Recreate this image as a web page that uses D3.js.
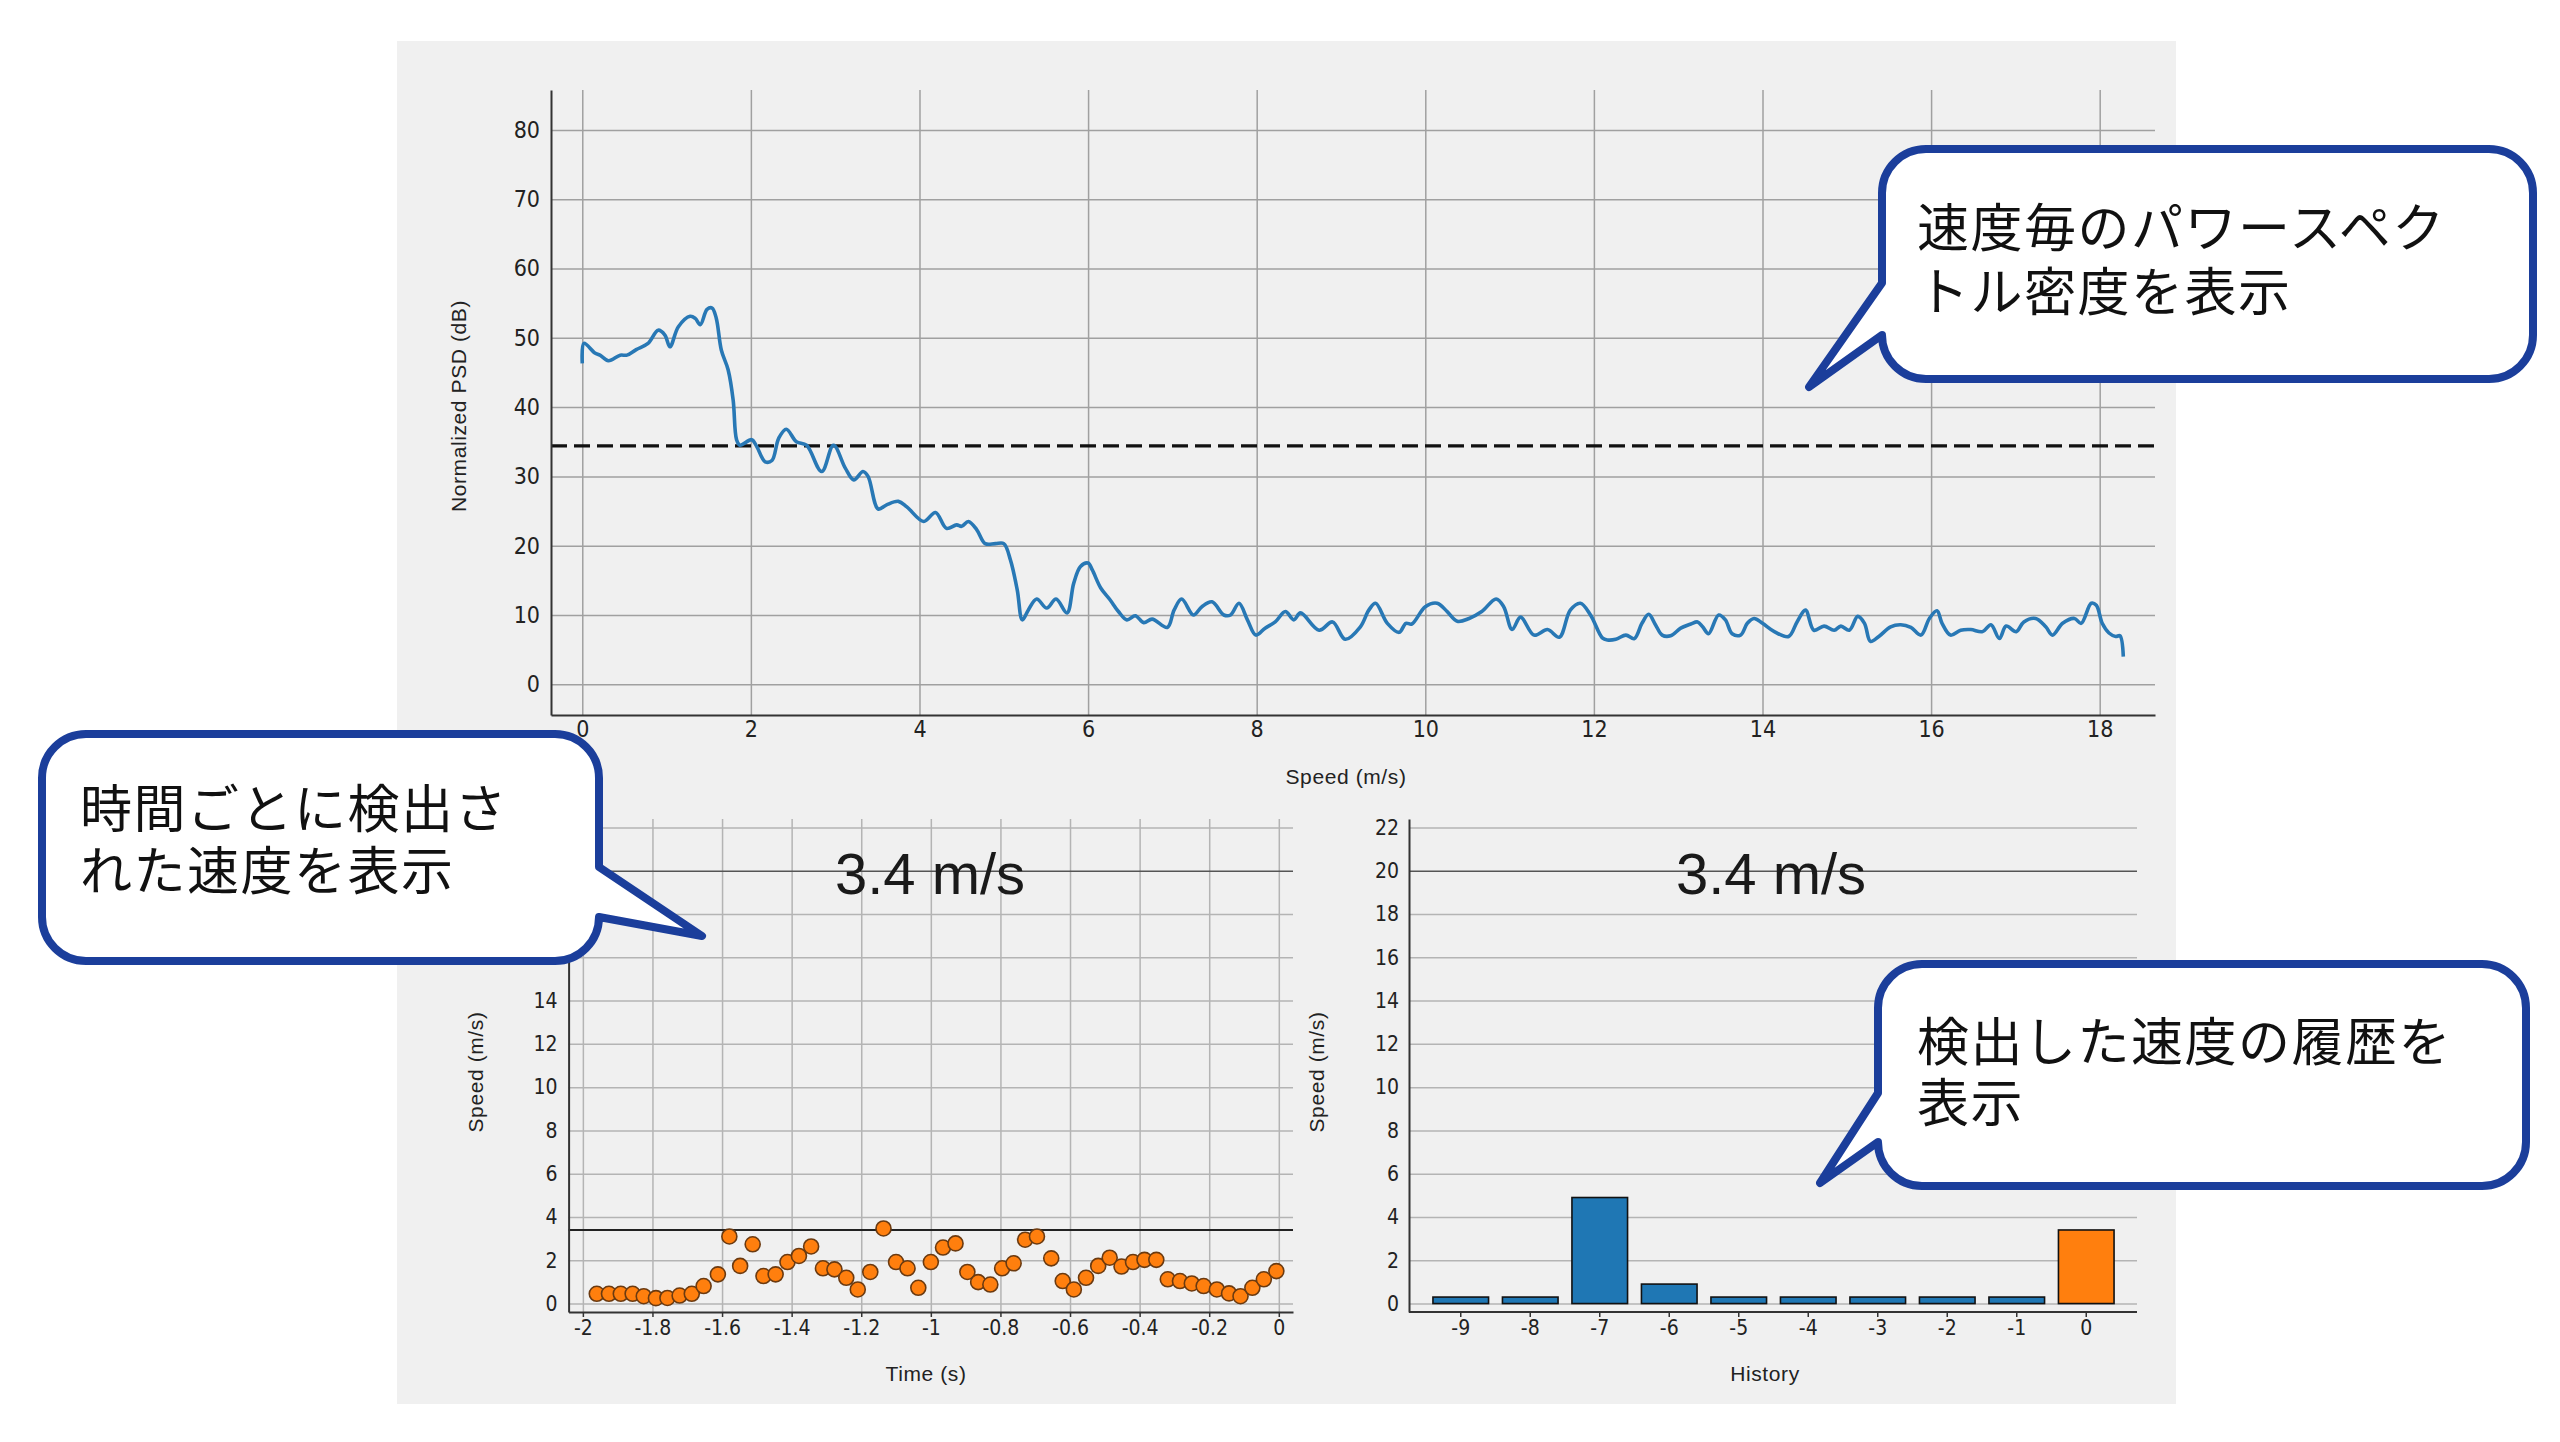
<!DOCTYPE html>
<html><head><meta charset="utf-8">
<script src="https://cdn.jsdelivr.net/npm/d3@7"></script>
<style>
html,body{margin:0;padding:0;background:#fff;}
svg{display:block;}
</style></head><body>
<svg id="c" width="2560" height="1442"></svg>
<script>
// ---------------- DATA ----------------
const psdSpeed = [0.00,0.02,0.15,0.21,0.31,0.45,0.53,0.64,0.78,0.90,0.98,1.04,1.14,1.28,1.34,1.40,1.48,1.54,1.59,1.65,1.73,1.79,1.83,1.87,2.01,2.07,2.17,2.25,2.33,2.42,2.54,2.66,2.84,2.98,3.12,3.22,3.33,3.39,3.51,3.61,3.75,3.85,4.05,4.19,4.32,4.44,4.50,4.58,4.68,4.78,4.90,5.00,5.08,5.16,5.22,5.29,5.39,5.51,5.62,5.75,5.83,5.91,6.00,6.05,6.15,6.26,6.36,6.46,6.56,6.66,6.76,6.94,7.02,7.11,7.25,7.35,7.47,7.61,7.69,7.79,7.89,7.99,8.10,8.22,8.34,8.44,8.52,8.74,8.90,9.05,9.23,9.33,9.41,9.55,9.69,9.77,9.84,10.00,10.14,10.26,10.38,10.52,10.67,10.84,10.93,11.03,11.13,11.29,11.45,11.59,11.72,11.84,11.96,12.10,12.16,12.26,12.38,12.48,12.57,12.65,12.73,12.81,12.91,13.03,13.15,13.23,13.29,13.36,13.48,13.56,13.64,13.74,13.82,13.90,14.00,14.14,14.31,14.41,14.51,14.61,14.73,14.85,14.93,15.03,15.13,15.21,15.28,15.38,15.52,15.64,15.76,15.88,15.98,16.07,16.13,16.23,16.35,16.47,16.61,16.71,16.81,16.89,17.01,17.10,17.24,17.36,17.44,17.56,17.70,17.78,17.90,17.96,18.03,18.11,18.19,18.24,18.28];
const psdDb = [46.3,49.2,47.8,47.5,46.7,47.5,47.5,48.3,49.2,51.1,50.4,48.7,51.6,53.1,52.8,51.9,54.1,54.3,52.8,48.2,45.4,41.0,35.3,34.5,35.3,34.3,32.1,32.3,35.5,36.8,35.0,34.5,30.7,34.5,31.2,29.5,30.7,30.0,25.3,25.9,26.4,25.6,23.5,24.8,22.5,23.0,22.8,23.5,22.3,20.3,20.3,20.3,17.9,13.6,9.3,10.7,12.3,11.0,12.3,10.3,14.6,17.0,17.5,16.5,13.9,12.2,10.5,9.3,9.9,8.9,9.4,8.2,10.7,12.3,10.0,11.2,11.9,10.0,10.0,11.7,9.3,7.1,8.1,9.0,10.5,9.3,10.3,7.8,9.0,6.5,8.3,10.7,11.7,8.8,7.5,8.8,8.7,11.2,11.7,10.5,9.1,9.5,10.5,12.3,11.2,7.9,9.7,7.1,7.9,6.8,10.7,11.7,10.0,6.7,6.4,6.5,7.1,6.6,8.8,10.1,8.6,7.1,7.0,8.1,8.7,9.0,8.3,7.3,10.0,9.3,7.3,7.1,8.8,9.5,8.8,7.6,6.9,9.0,10.7,7.8,8.4,7.8,8.4,7.8,9.8,8.8,6.2,6.9,8.3,8.6,8.2,7.1,9.5,10.6,8.8,7.1,7.8,7.9,7.6,8.6,6.6,8.4,7.6,9.0,9.5,8.3,7.1,8.8,9.5,8.8,11.7,11.4,8.8,7.4,6.9,7.0,4.0];
const psdThreshold = 34.4;
const psdXTicks = [0,2,4,6,8,10,12,14,16,18];
const psdYTicks = [0,10,20,30,40,50,60,70,80];

const detTime = [-1.960,-1.925,-1.891,-1.857,-1.825,-1.790,-1.757,-1.722,-1.687,-1.653,-1.612,-1.579,-1.548,-1.512,-1.481,-1.446,-1.412,-1.379,-1.344,-1.310,-1.277,-1.243,-1.210,-1.174,-1.136,-1.100,-1.067,-1.036,-1.000,-0.965,-0.929,-0.895,-0.864,-0.829,-0.795,-0.762,-0.729,-0.695,-0.654,-0.621,-0.589,-0.554,-0.519,-0.486,-0.452,-0.419,-0.386,-0.352,-0.319,-0.284,-0.250,-0.216,-0.178,-0.143,-0.110,-0.076,-0.043,-0.007];
const detSpeed = [0.45,0.45,0.45,0.45,0.34,0.25,0.26,0.37,0.45,0.81,1.35,3.10,1.74,2.74,1.27,1.35,1.92,2.20,2.64,1.63,1.58,1.19,0.65,1.46,3.47,1.92,1.63,0.73,1.92,2.59,2.78,1.46,0.99,0.88,1.63,1.86,2.95,3.10,2.09,1.04,0.65,1.19,1.74,2.12,1.71,1.92,2.02,2.02,1.12,1.04,0.93,0.81,0.65,0.47,0.34,0.73,1.12,1.50];
const currentSpeed = 3.4;
const timeTicks = [-2,-1.8,-1.6,-1.4,-1.2,-1,-0.8,-0.6,-0.4,-0.2,0];
const speedTicks = [0,2,4,6,8,10,12,14,16,18,20,22];

const histLabels = ["-9","-8","-7","-6","-5","-4","-3","-2","-1","0"];
const histSpeed = [0.3,0.3,4.9,0.9,0.3,0.3,0.3,0.3,0.3,3.4];

const titleText = "3.4 m/s";
const psdXTitle = "Speed (m/s)";
const psdYTitle = "Normalized PSD (dB)";
const speedTitle = "Speed (m/s)";
const timeTitle = "Time (s)";
const histTitle = "History";
const callout1 = ["速度毎のパワースペク","トル密度を表示"];
const callout2 = ["時間ごとに検出さ","れた速度を表示"];
const callout3 = ["検出した速度の履歴を","表示"];

// ---------------- DRAW ----------------
const svg = d3.select("#c");
const FONT = '"Liberation Sans", Arial, sans-serif';
const NFONT = '"Liberation Sans Narrow", "DejaVu Sans Condensed", "Liberation Sans", Arial, sans-serif';
const JFONT = '"Liberation Sans", "Noto Sans CJK JP", "Noto Sans CJK SC", sans-serif';

svg.append("rect").attr("x",397).attr("y",41).attr("width",1779).attr("height",1363).attr("fill","#f0f0f0");

function styleAxis(g, size){
  g.selectAll("text").attr("font-family",NFONT).attr("font-size",size).attr("fill","#222");
  g.select(".domain").attr("stroke","#333").attr("stroke-width",2);
  g.selectAll(".tick line").attr("stroke","#333").attr("stroke-width",1.5);
}
function gridStyle(g, color){
  g.select(".domain").remove();
  g.selectAll(".tick line").attr("stroke",color).attr("stroke-width",1.5);
  g.selectAll("text").remove();
}
function fmt(d){ return String(+(+d).toFixed(1)); }

// ---- Top chart: PSD ----
const xP = d3.scaleLinear().domain([-0.371,18.656]).range([551,2155]);
const yP = d3.scaleLinear().domain([-4.43,85.76]).range([715,90]);
const gTop = svg.append("g");
gTop.append("g").attr("transform","translate(0,715)")
  .call(d3.axisBottom(xP).tickValues(psdXTicks).tickSize(-(715-90)).tickFormat(""))
  .call(g=>gridStyle(g,"#a0a0a0"));
gTop.append("g").attr("transform","translate(551,0)")
  .call(d3.axisLeft(yP).tickValues(psdYTicks).tickSize(-(2155-551)).tickFormat(""))
  .call(g=>gridStyle(g,"#a0a0a0"));
gTop.append("line").attr("x1",xP.range()[0]).attr("x2",xP.range()[1])
  .attr("y1",yP(psdThreshold)).attr("y2",yP(psdThreshold))
  .attr("stroke","#111").attr("stroke-width",3.4).attr("stroke-dasharray","16,7");
const psdPts = psdSpeed.map((s,i)=>[s,psdDb[i]]);
gTop.append("path").datum(psdPts)
  .attr("fill","none").attr("stroke","#2878b5").attr("stroke-width",3.6).attr("stroke-linejoin","round")
  .attr("d", d3.line().x(d=>xP(d[0])).y(d=>yP(d[1])).curve(d3.curveCatmullRom.alpha(0.5)));
gTop.append("g").attr("transform","translate(0,715)")
  .call(d3.axisBottom(xP).tickValues(psdXTicks).tickSize(0).tickSizeOuter(0).tickPadding(6).tickFormat(d=>fmt(d)))
  .call(g=>styleAxis(g,23));
gTop.append("g").attr("transform","translate(551,0)")
  .call(d3.axisLeft(yP).tickValues(psdYTicks).tickSize(0).tickSizeOuter(0).tickPadding(11).tickFormat(d=>fmt(d)))
  .call(g=>styleAxis(g,23));
gTop.append("text").attr("x",1346).attr("y",784).attr("text-anchor","middle")
  .attr("font-family",FONT).attr("font-size",21).attr("letter-spacing",0.6).attr("fill","#222").text(psdXTitle);
gTop.append("text").attr("transform","translate(466,406) rotate(-90)").attr("text-anchor","middle")
  .attr("font-family",FONT).attr("font-size",21).attr("letter-spacing",0.6).attr("fill","#222").text(psdYTitle);

// ---- Bottom-left chart: detected speed over time ----
const xT = d3.scaleLinear().domain([-2.041,0.0408]).range([568.6,1293]);
const yS = d3.scaleLinear().domain([-0.39,22.39]).range([1312,819]);
const gBL = svg.append("g");
gBL.append("g").attr("transform","translate(0,1312)")
  .call(d3.axisBottom(xT).tickValues(timeTicks).tickSize(-(1312-819)).tickFormat(""))
  .call(g=>gridStyle(g,"#b4b4b4"));
gBL.append("g").attr("transform","translate(568.6,0)")
  .call(d3.axisLeft(yS).tickValues(speedTicks).tickSize(-(1293-568.6)).tickFormat(""))
  .call(g=>gridStyle(g,"#b4b4b4"));
gBL.selectAll(".tick").filter(d=>d===20).select("line").attr("stroke","#555");
gBL.append("line").attr("x1",xT.range()[0]).attr("x2",xT.range()[1])
  .attr("y1",yS(currentSpeed)).attr("y2",yS(currentSpeed))
  .attr("stroke","#222").attr("stroke-width",2);
gBL.append("g").selectAll("circle").data(detTime.map((t,i)=>[t,detSpeed[i]])).join("circle")
  .attr("cx",d=>xT(d[0])).attr("cy",d=>yS(d[1])).attr("r",7.5)
  .attr("fill","#ff7f0e").attr("stroke","#6b3a10").attr("stroke-width",1.6);
gBL.append("g").attr("transform","translate(0,1312)")
  .call(d3.axisBottom(xT).tickValues(timeTicks).tickSize(5).tickSizeOuter(0).tickPadding(3).tickFormat(d=>fmt(d)))
  .call(g=>styleAxis(g,21));
gBL.append("g").attr("transform","translate(568.6,0)")
  .call(d3.axisLeft(yS).tickValues(speedTicks).tickSize(0).tickSizeOuter(0).tickPadding(11).tickFormat(d=>fmt(d)))
  .call(g=>styleAxis(g,21));
gBL.append("text").attr("x",930).attr("y",894).attr("text-anchor","middle")
  .attr("font-family",FONT).attr("font-size",58).attr("fill","#1a1a1a").text(titleText);
gBL.append("text").attr("x",926).attr("y",1381).attr("text-anchor","middle")
  .attr("font-family",FONT).attr("font-size",21).attr("letter-spacing",0.6).attr("fill","#222").text(timeTitle);
gBL.append("text").attr("transform","translate(483,1072) rotate(-90)").attr("text-anchor","middle")
  .attr("font-family",FONT).attr("font-size",21).attr("letter-spacing",0.6).attr("fill","#222").text(speedTitle);

// ---- Bottom-right chart: history bars ----
const xH = d3.scaleBand().domain(histLabels).range([1426,2121]).paddingInner(0.2).paddingOuter(0.1);
const yH = d3.scaleLinear().domain([-0.39,22.39]).range([1312,819]);
const gBR = svg.append("g");
gBR.append("g").attr("transform","translate(1409,0)")
  .call(d3.axisLeft(yH).tickValues(speedTicks).tickSize(-(2137-1409)).tickFormat(""))
  .call(g=>gridStyle(g,"#b4b4b4"));
gBR.selectAll(".tick").filter(d=>d===20).select("line").attr("stroke","#555");
gBR.append("g").selectAll("rect").data(histLabels.map((l,i)=>[l,histSpeed[i],i])).join("rect")
  .attr("x",d=>xH(d[0])).attr("width",xH.bandwidth())
  .attr("y",d=>yH(d[1])).attr("height",d=>yH(0)-yH(d[1]))
  .attr("fill",d=>d[2]===histLabels.length-1?"#ff7f0e":"#1f77b4")
  .attr("stroke","#111").attr("stroke-width",1.6);
gBR.append("g").attr("transform","translate(0,1312)")
  .call(d3.axisBottom(xH).tickSize(5).tickSizeOuter(0).tickPadding(3))
  .call(g=>styleAxis(g,21))
  .call(g=>g.select(".domain").attr("d","M1409,0H2137"));
gBR.append("g").attr("transform","translate(1409,0)")
  .call(d3.axisLeft(yH).tickValues(speedTicks).tickSize(0).tickSizeOuter(0).tickPadding(10).tickFormat(d=>fmt(d)))
  .call(g=>styleAxis(g,21));
gBR.append("text").attr("x",1771).attr("y",894).attr("text-anchor","middle")
  .attr("font-family",FONT).attr("font-size",58).attr("fill","#1a1a1a").text(titleText);
gBR.append("text").attr("x",1765).attr("y",1381).attr("text-anchor","middle")
  .attr("font-family",FONT).attr("font-size",21).attr("letter-spacing",0.6).attr("fill","#222").text(histTitle);
gBR.append("text").attr("transform","translate(1324,1072) rotate(-90)").attr("text-anchor","middle")
  .attr("font-family",FONT).attr("font-size",21).attr("letter-spacing",0.6).attr("fill","#222").text(speedTitle);

// ---- Callouts ----
function calloutPath(b){
  const {x0,y0,x1,y1,r}=b;
  let p=`M${x0+r},${y0}H${x1-r}A${r},${r} 0 0 1 ${x1},${y0+r}`;
  if(b.side==="right") p+=`V${b.ja}L${b.tx},${b.ty}L${x1},${Math.min(b.jb,y1-r)}`;
  p+=`V${y1-r}A${r},${r} 0 0 1 ${x1-r},${y1}H${x0+r}A${r},${r} 0 0 1 ${x0},${y1-r}`;
  if(b.side==="left") p+=`V${Math.min(b.jb,y1-r)}L${b.tx},${b.ty}L${x0},${b.ja}`;
  p+=`V${y0+r}A${r},${r} 0 0 1 ${x0+r},${y0}Z`;
  return p;
}
const boxes = [
  {x0:1882,y0:149,x1:2533,y1:379,r:44,side:"left",ja:283,jb:336,tx:1809,ty:387,lines:callout1,tx0:1917,base:247,lh:64},
  {x0:42,y0:734,x1:599,y1:961,r:44,side:"right",ja:867,jb:922,tx:702,ty:936,lines:callout2,tx0:80,base:828,lh:62},
  {x0:1878,y0:964,x1:2526,y1:1186,r:44,side:"left",ja:1093,jb:1142,tx:1820,ty:1183,lines:callout3,tx0:1917,base:1061,lh:61}
];
const cg = svg.append("g");
boxes.forEach(b=>{
  cg.append("path").attr("d",calloutPath(b)).attr("fill","#fff")
    .attr("stroke","#1b3e9b").attr("stroke-width",8).attr("stroke-linejoin","round");
  b.lines.forEach((line,i)=>{
    cg.append("text").attr("x",b.tx0).attr("y",b.base+i*b.lh)
      .attr("font-family",JFONT).attr("font-size",52).attr("letter-spacing",1.5).attr("fill","#111").text(line);
  });
});
</script>
</body></html>
